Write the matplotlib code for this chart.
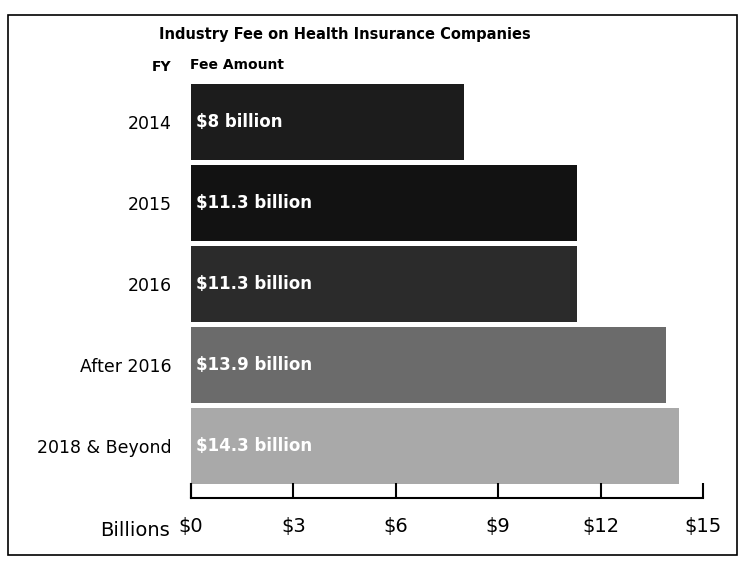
import matplotlib.pyplot as plt
from matplotlib.patches import Rectangle

years = ["2014", "2015", "2016", "After 2016", "2018 & Beyond"]
fees = [8.0, 11.3, 11.3, 13.9, 14.3]
fee_labels = ["$8 billion", "$11.3 billion", "$11.3 billion", "$13.9 billion", "$14.3 billion"]
xticks = [0, 3, 6, 9, 12, 15]
xtick_labels = ["$0", "$3", "$6", "$9", "$12", "$15"]
bar_colors = ["#1c1c1c", "#121212", "#2b2b2b", "#6b6b6b", "#a9a9a9"]

fig = plt.figure(figsize=(7.41, 5.65), dpi=100)
ax = fig.add_axes([0.2578, 0.1186, 0.691, 0.733])

pos = list(range(len(years)))
ax.barh(pos, fees, height=0.93, color=bar_colors, left=0)

# labels inside the bars
for p, lab in zip(pos, fee_labels):
    ax.text(0.15, p, lab, color="white", fontsize=12, fontweight="bold",
            ha="left", va="center")

ax.set_xlim(0, 15)
ax.set_ylim(4.64, -0.47)
ax.set_yticks(pos)
ax.set_yticklabels(years, fontsize=12.5)
ax.tick_params(axis="y", length=0, pad=14)
ax.set_xticks(xticks)
ax.set_xticklabels(xtick_labels, fontsize=14)
ax.tick_params(axis="x", direction="in", length=11, width=1.5, pad=14)

for s in ["top", "right"]:
    ax.spines[s].set_visible(False)
ax.spines["bottom"].set_linewidth(1.5)
ax.spines["left"].set_linewidth(1.5)
ax.spines["left"].set_bounds(4.465, 4.64)

fig.text(170 / 741, 1 - 530 / 565, "Billions", fontsize=14, ha="right", va="center")
fig.text(0.466, 1 - 35 / 565, "Industry Fee on Health Insurance Companies",
         fontsize=10.5, fontweight="bold", ha="center", va="center")
fig.text(152 / 741, 1 - 67 / 565, "FY", fontsize=10, fontweight="bold", ha="left", va="center")
fig.text(190 / 741, 1 - 65 / 565, "Fee Amount", fontsize=10, fontweight="bold", ha="left", va="center")

# frame around the whole graphic
fig.patches.append(Rectangle((8 / 741, 1 - 555 / 565), 729 / 741, 540 / 565,
                             transform=fig.transFigure, fill=False,
                             edgecolor="black", linewidth=1.2))

fig.savefig("out.png", dpi=100)
